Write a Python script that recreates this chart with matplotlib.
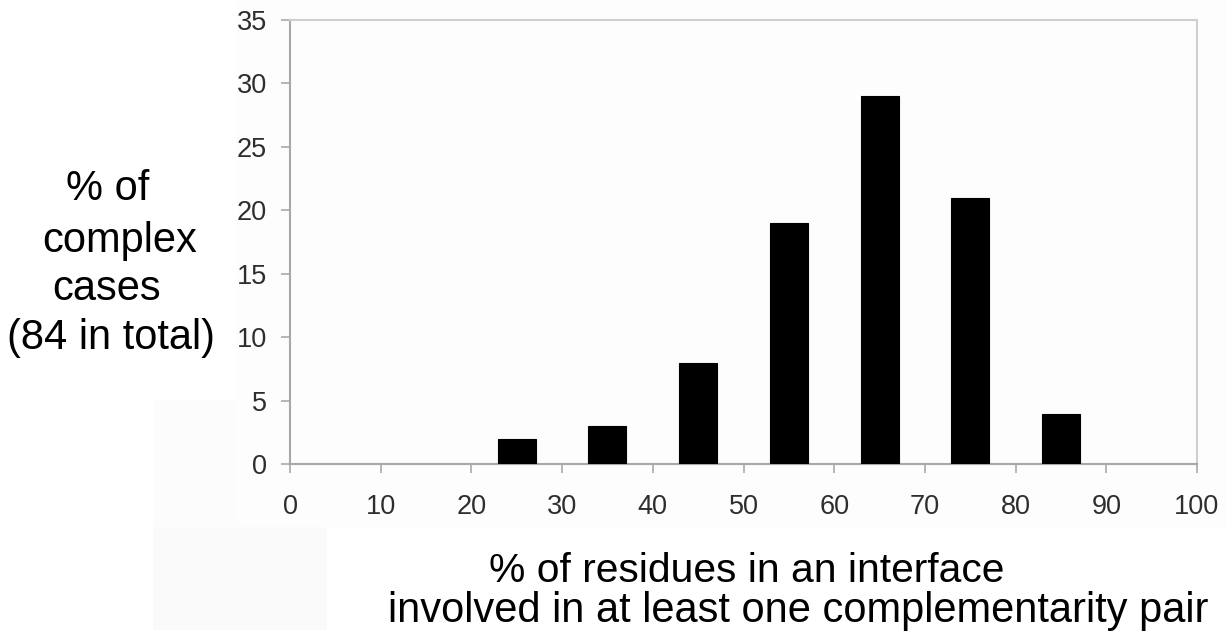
import matplotlib
matplotlib.use("Agg")
import matplotlib.pyplot as plt
from matplotlib.patches import Rectangle

# Histogram data: share of complexes per bin of interface residues in complementarity pairs
bin_centers = [25, 35, 45, 55, 65, 75, 85]
percent_cases = [2, 3, 8, 19, 29, 21, 4]
x_ticks = [0, 10, 20, 30, 40, 50, 60, 70, 80, 90, 100]
y_ticks = [0, 5, 10, 15, 20, 25, 30, 35]

ylabel_lines = ["% of", "complex", "cases", "(84 in total)"]
xlabel_lines = ["% of residues in an interface",
                "involved in at least one complementarity pair"]

W, H = 1226, 644
fig = plt.figure(figsize=(W / 100, H / 100), dpi=100)
fig.patch.set_facecolor("white")


def panel(x0, y0, x1, y1, color):
    """Faint background block given in pixel coordinates (y from the top)."""
    fig.patches.append(Rectangle((x0 / W, (H - y1) / H), (x1 - x0) / W, (y1 - y0) / H,
                                 transform=fig.transFigure, facecolor=color,
                                 edgecolor="none", zorder=-10))


panel(237, 0, W, 527, "#fdfdfd")
panel(153, 400, 237, 527, "#fcfcfc")
panel(153, 527, 327, 630, "#fafafa")

left, right, top, bottom = 290, 1197, 20, 464.3
ax = fig.add_axes([left / W, (H - bottom) / H, (right - left) / W, (bottom - top) / H])
ax.set_zorder(5)
ax.set_facecolor("#fdfdfd")

ax.bar(bin_centers, percent_cases, width=4.2, color="black",
       edgecolor="black", linewidth=0.8, zorder=3)

ax.set_xlim(0, 100)
ax.set_ylim(0, 35)
ax.set_xticks(x_ticks)
ax.set_yticks(y_ticks)
ax.set_xticklabels([str(t) for t in x_ticks])
ax.set_yticklabels([str(t) for t in y_ticks])

for side, col in [("left", "#a8a8a8"), ("bottom", "#a8a8a8"),
                  ("top", "#cfcfcf"), ("right", "#cfcfcf")]:
    ax.spines[side].set_color(col)
    ax.spines[side].set_linewidth(1.5)

ax.tick_params(axis="both", direction="out", color="#b0b0b0", width=1.3,
               labelcolor="#2e2e2e", labelsize=19.5)
ax.tick_params(axis="y", length=6.5, pad=10)
ax.tick_params(axis="x", length=6.5, pad=15)
for lab in ax.get_xticklabels() + ax.get_yticklabels():
    lab.set_family(["Liberation Sans", "DejaVu Sans"])

font = ["Liberation Sans", "DejaVu Sans"]

# y-axis title, one line per row
ylab_centers = [108, 120, 107, 111]
ylab_baselines = [200, 252, 300, 349]
for txt, xc, yb in zip(ylabel_lines, ylab_centers, ylab_baselines):
    fig.text(xc / W, (H - yb) / H, txt, ha="center", va="baseline",
             fontsize=30, color="black", family=font, zorder=6)

# x-axis title
xlab_centers = [747, 798]
xlab_sizes = [29.3, 30]
xlab_baselines = [582, 622]
for txt, xc, fs, yb in zip(xlabel_lines, xlab_centers, xlab_sizes, xlab_baselines):
    fig.text(xc / W, (H - yb) / H, txt, ha="center", va="baseline",
             fontsize=fs, color="black", family=font, zorder=6)

fig.savefig("out.png", dpi=100, facecolor=fig.get_facecolor())
